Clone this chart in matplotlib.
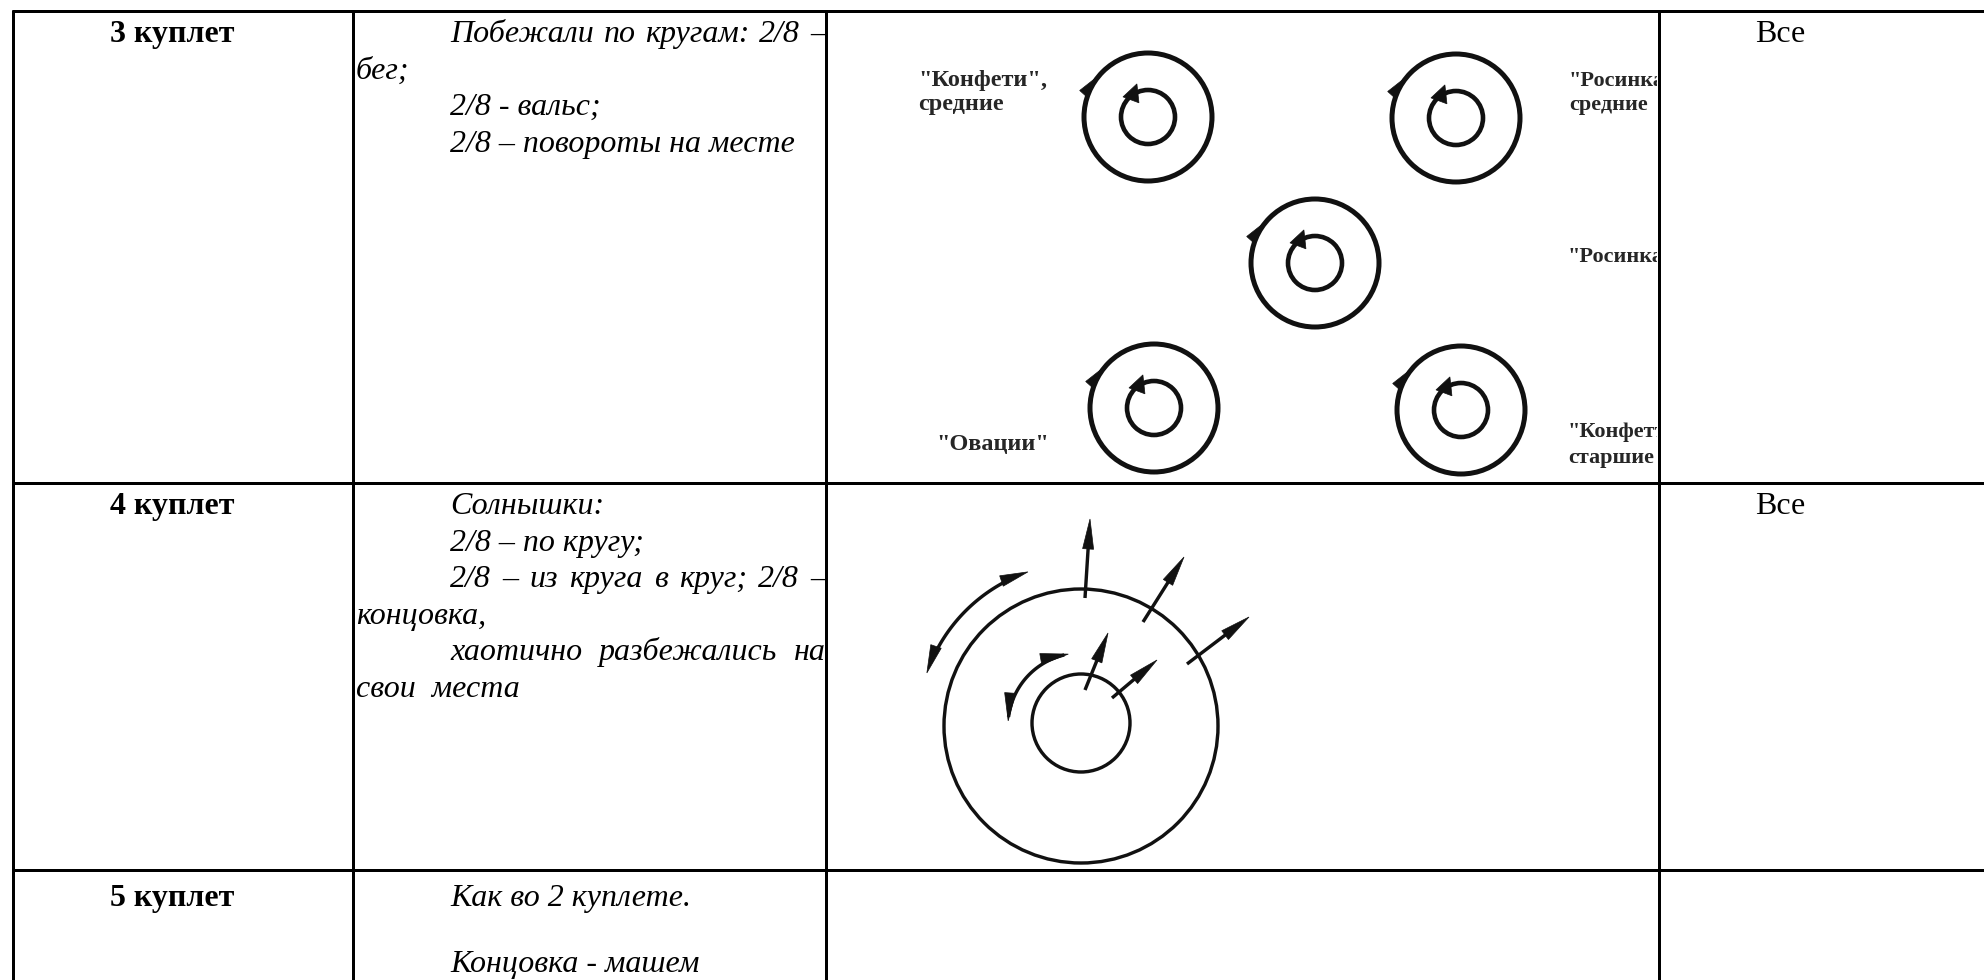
import matplotlib
matplotlib.use("Agg")
import matplotlib.pyplot as plt
import numpy as np
from matplotlib.patches import Circle, Polygon
from matplotlib.transforms import Bbox, TransformedBbox

# ---------------- data (content) ----------------
VERSES = ["3 куплет", "4 куплет", "5 куплет"]
PERFORMERS = ["Все", "Все", ""]

# description lines: (text, first-line indent?, justified?)
DESC_ROW1 = [("Побежали по кругам: 2/8 –", True, True),
             ("бег;", False, False),
             ("2/8 - вальс;", True, False),
             ("2/8 – повороты на месте", True, False)]
DESC_ROW2 = [("Солнышки:", True, False),
             ("2/8 – по кругу;", True, False),
             ("2/8 – из круга в круг; 2/8 –", True, True),
             ("концовка,", False, False),
             ("хаотично разбежались на", True, True),
             ("свои  места", False, False)]
DESC_ROW3 = [("Как во 2 куплете.", True, False),
             ("Концовка - машем", True, False)]

# diagram 1: pairs of concentric circles (centres in px) and group labels
PAIR_X = [1148, 1456, 1315, 1154, 1461]
PAIR_Y = [117, 118, 263, 408, 410]
GROUP_LABELS = ['"Конфети",', 'средние', '"Росинка",', 'средние',
                '"Росинка"', '"Овации"', '"Конфетти",', 'старшие']
GROUP_LABEL_X = [918, 918, 1569, 1569, 1568, 936, 1568, 1568]
GROUP_LABEL_Y = [86, 110, 86, 110, 262, 450, 437, 463]

# diagram 2: "sunshine" circles, radial arrows, double-headed arcs
SUN_CENTER = (1081, 726)
SUN_OUTER_R = 137
SUN_INNER_R = 49
RAY_X0 = [1085, 1143, 1187, 1085, 1112]
RAY_Y0 = [598, 622, 664, 690, 698]
RAY_X1 = [1090, 1184, 1249, 1108, 1157]
RAY_Y1 = [519, 557, 617, 633, 660]
ARC_R = [163, 73]
ARC_T0 = [109, 100]
ARC_T1 = [161, 176]

# ---------------- layout ----------------
W, H = 1984, 980
fig = plt.figure(figsize=(W / 100, H / 100), dpi=100)
ax = fig.add_axes([0, 0, 1, 1])
ax.set_xlim(0, W)
ax.set_ylim(H, 0)
ax.axis("off")

SERIF = ["Liberation Serif", "DejaVu Serif"]
FS = 23
LW_TABLE = 3 * 0.72

ROW_LINES = [11, 483, 870]
COL_LINES = [13, 353, 826, 1659]
for y in ROW_LINES:
    ax.plot([COL_LINES[0] - 1, W], [y, y], color="black", lw=LW_TABLE,
            solid_capstyle="butt")
for x in COL_LINES:
    ax.plot([x, x], [ROW_LINES[0] - 1, H], color="black", lw=LW_TABLE,
            solid_capstyle="butt")

ROW_BASE = [42, 514, 906]
LINE_STEP = [36.6, 36.6, 66]
COL1_CX = 172
INDENT_X = 450
WRAP_X = 356
RIGHT_X = 826

renderer = fig.canvas.get_renderer()


def justify(words, x0, x1, y, **kw):
    texts = [ax.text(0, y, w, **kw) for w in words]
    widths = [t.get_window_extent(renderer).width for t in texts]
    gap = (x1 - x0 - sum(widths)) / max(len(words) - 1, 1)
    x = x0
    for t, w in zip(texts, widths):
        t.set_x(x)
        x += w + gap


txt_kw = dict(fontsize=FS, family=SERIF, style="italic", va="baseline",
              ha="left", color="black")
for r, desc in enumerate([DESC_ROW1, DESC_ROW2, DESC_ROW3]):
    base = ROW_BASE[r]
    ax.text(COL1_CX, base, VERSES[r], fontsize=FS, family=SERIF,
            weight="bold", ha="center", va="baseline")
    if PERFORMERS[r]:
        ax.text(1755, base, PERFORMERS[r], fontsize=FS, family=SERIF,
                ha="left", va="baseline")
    for i, (line, first, just) in enumerate(desc):
        y = base + i * LINE_STEP[r]
        x0 = INDENT_X if first else WRAP_X
        if just:
            justify(line.split(), x0, RIGHT_X, y, **txt_kw)
        else:
            ax.text(x0, y, line, **txt_kw)


def head(tip, d, length, width, color="black"):
    tip = np.asarray(tip, float)
    d = np.asarray(d, float)
    d = d / np.hypot(*d)
    p = np.array([-d[1], d[0]])
    base = tip - d * length
    ax.add_patch(Polygon([tip, base + p * width / 2, base - p * width / 2],
                         closed=True, facecolor=color, edgecolor=color, lw=0.5))


# ---- diagram 1 ----
DIAG_COL = "#111111"
for cx, cy in zip(PAIR_X, PAIR_Y):
    ax.add_patch(Circle((cx, cy), 64, fill=False, ec=DIAG_COL, lw=5 * 0.72))
    ax.add_patch(Circle((cx, cy), 27, fill=False, ec=DIAG_COL, lw=4.6 * 0.72))
    t = np.radians(138)
    tip = (cx + 64 * np.cos(t), cy - 64 * np.sin(t))
    head(tip, (np.sin(t), np.cos(t)), 26, 9, DIAG_COL)
    t = np.radians(115)
    tip = (cx + 31 * np.cos(t) + 2, cy - 31 * np.sin(t) - 5)
    head(tip, (0.35, -0.94), 17, 17, DIAG_COL)

clip = TransformedBbox(Bbox.from_extents(COL_LINES[2], ROW_LINES[0],
                                         COL_LINES[3] - 2, ROW_LINES[1]),
                       ax.transData)
for s, x, y in zip(GROUP_LABELS, GROUP_LABEL_X, GROUP_LABEL_Y):
    size = 16 if x > 1400 else 17.5
    t = ax.text(x, y, s, fontsize=size, family=SERIF, weight="bold",
                color="#262626", ha="left", va="baseline")
    t.set_clip_box(clip)
    t.set_clip_on(True)

# ---- diagram 2 ----
scx, scy = SUN_CENTER
ax.add_patch(Circle((scx, scy), SUN_OUTER_R, fill=False, ec=DIAG_COL,
                    lw=3.4 * 0.72))
ax.add_patch(Circle((scx, scy - 3), SUN_INNER_R, fill=False, ec=DIAG_COL,
                    lw=3.4 * 0.72))
for x0, y0, x1, y1 in zip(RAY_X0, RAY_Y0, RAY_X1, RAY_Y1):
    d = np.array([x1 - x0, y1 - y0], float)
    d /= np.hypot(*d)
    ax.plot([x0, x1 - d[0] * 12], [y0, y1 - d[1] * 12], color=DIAG_COL,
            lw=3.4 * 0.72, solid_capstyle="butt")
    head((x1, y1), d, 30, 11, DIAG_COL)

for r, t0, t1 in zip(ARC_R, ARC_T0, ARC_T1):
    a0, a1 = np.radians(t0), np.radians(t1)
    tt = np.linspace(a0 + 0.08, a1 - 0.08, 60)
    ax.plot(scx + r * np.cos(tt), scy - r * np.sin(tt), color=DIAG_COL,
            lw=3.4 * 0.72)
    head((scx + r * np.cos(a0), scy - r * np.sin(a0)),
         (np.sin(a0), np.cos(a0)), 28, 11, DIAG_COL)
    head((scx + r * np.cos(a1), scy - r * np.sin(a1)),
         (-np.sin(a1), -np.cos(a1)), 28, 11, DIAG_COL)

fig.savefig("out.png", dpi=100)
